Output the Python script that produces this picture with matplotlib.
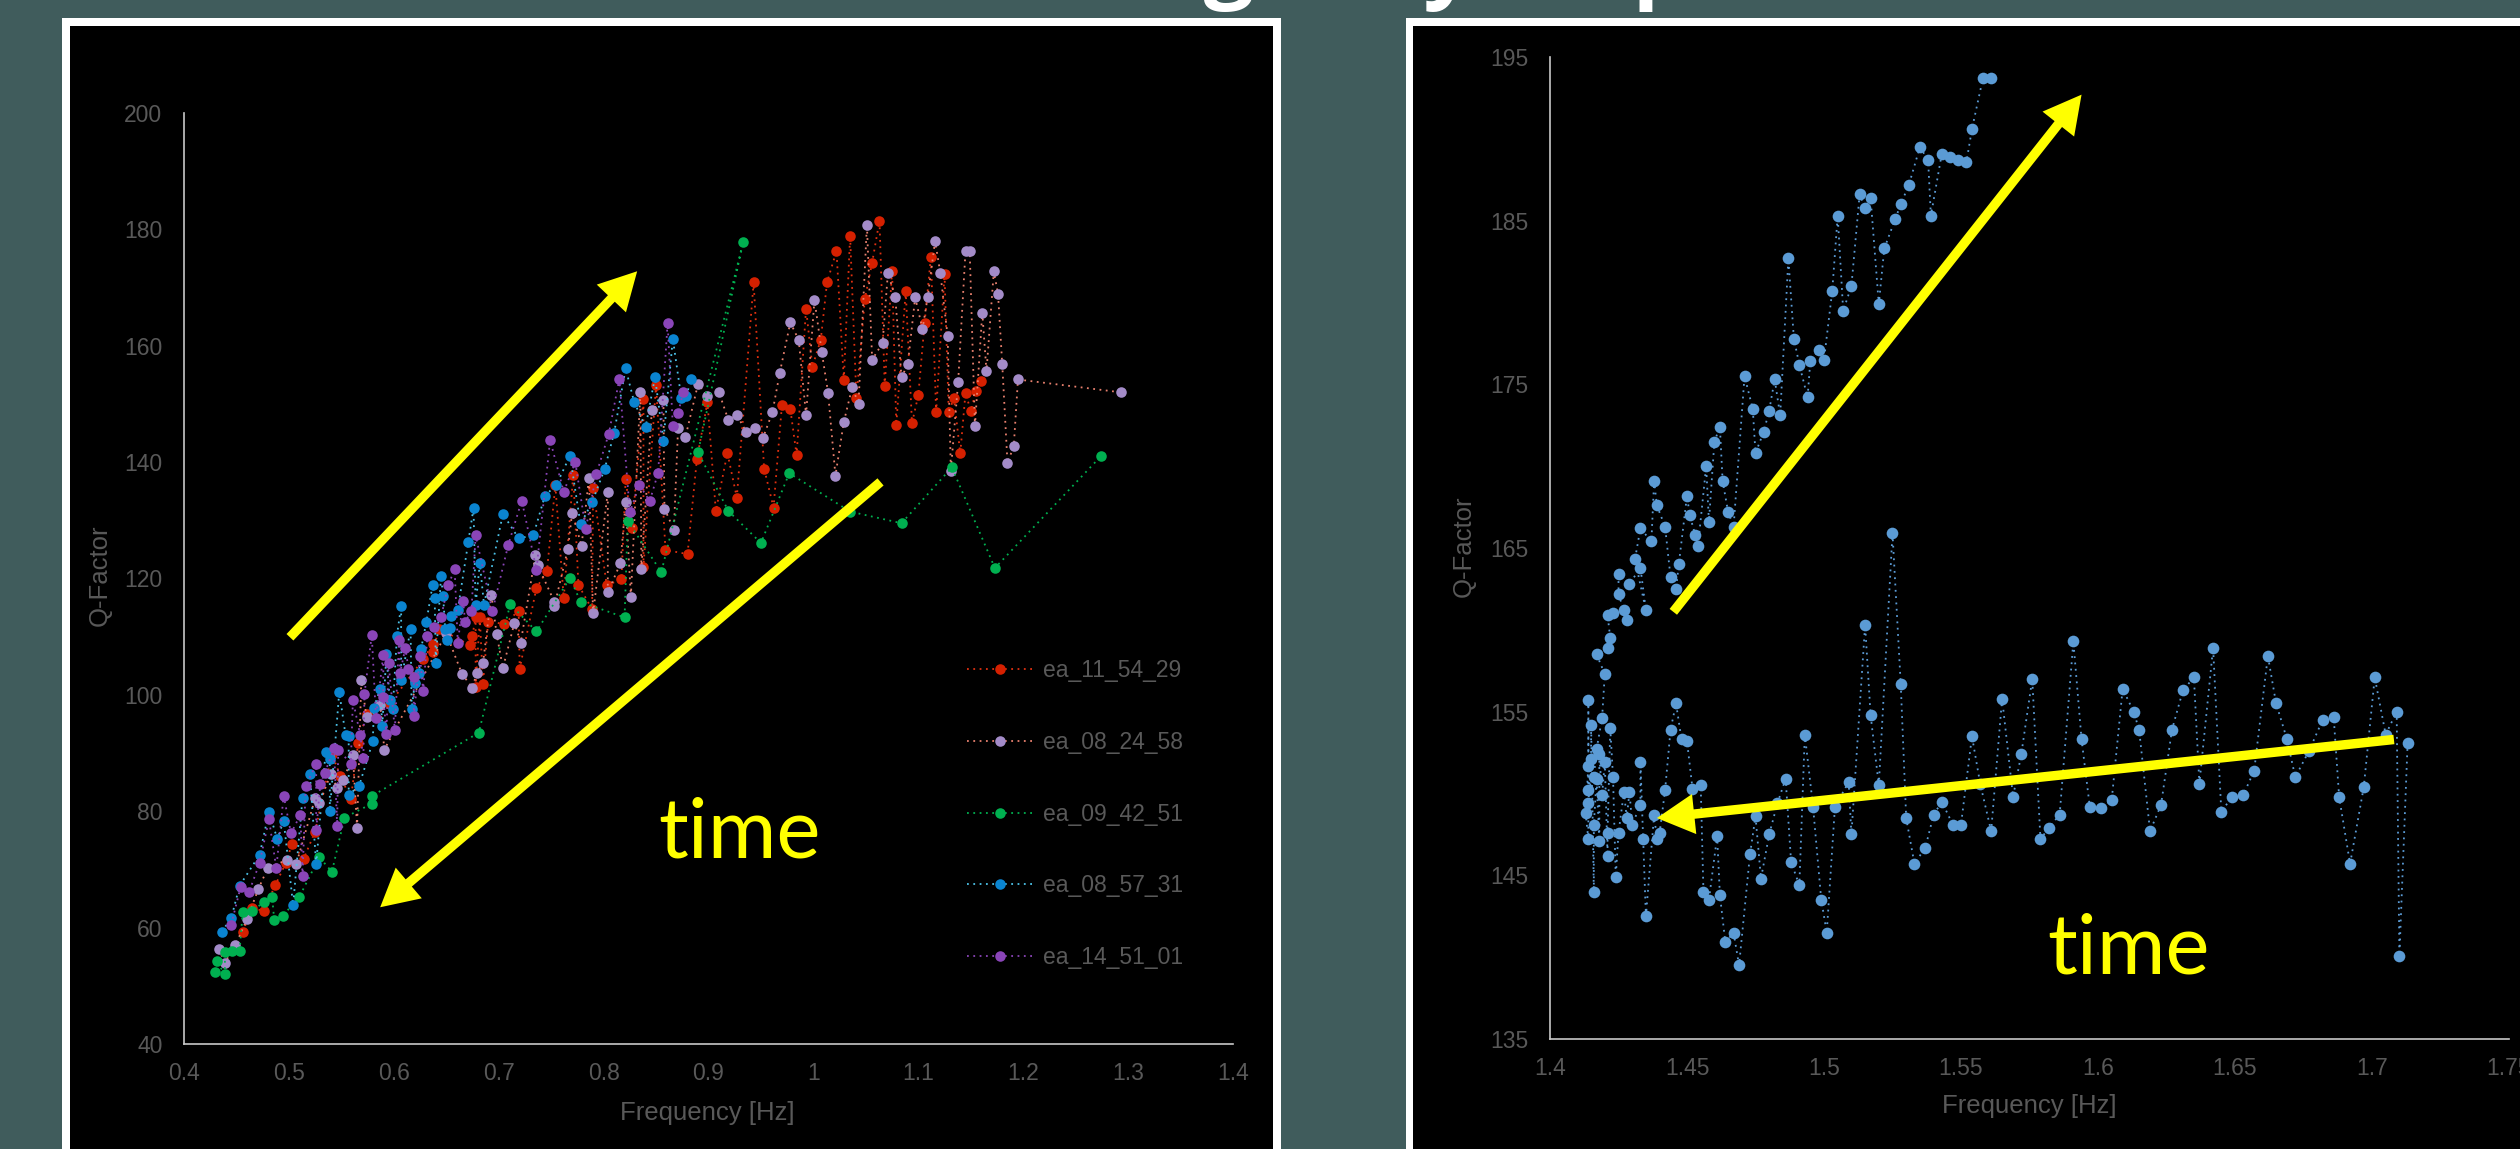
import numpy as np
import matplotlib.pyplot as plt
from matplotlib.patches import Rectangle, FancyArrowPatch
from matplotlib.ticker import MultipleLocator, FuncFormatter

plt.rcParams['font.family'] = ['Liberation Sans', 'DejaVu Sans']

# ---- data ----
labels = ['ea_11_54_29', 'ea_08_24_58', 'ea_09_42_51', 'ea_08_57_31', 'ea_14_51_01']
marker_colors = ['#d52000', '#a38bc8', '#00b050', '#0a84d0', '#8a45b8']
line_colors = ['#e03010', '#e8806e', '#00b050', '#4cc2e8', '#8a45b8']

pts_11_54_29 = [
    (0.456, 59.3), (0.465, 63.3), (0.476, 62.9), (0.487, 67.3), (0.497, 71.1), (0.503, 74.4),
    (0.514, 71.8), (0.525, 76.5), (0.541, 89.8), (0.549, 86.1), (0.559, 82.1), (0.566, 91.7),
    (0.574, 96.7), (0.596, 98.5), (0.628, 106.1), (0.637, 108.7), (0.637, 107.3), (0.643, 111.4),
    (0.673, 108.5), (0.675, 110.2), (0.678, 113.4), (0.678, 101.4), (0.682, 113.3), (0.685, 101.9),
    (0.690, 112.6), (0.705, 112.2), (0.719, 114.4), (0.720, 104.5), (0.736, 118.4), (0.746, 121.3),
    (0.754, 136.0), (0.762, 116.6), (0.771, 137.8), (0.776, 118.9), (0.789, 114.7), (0.790, 135.5),
    (0.803, 118.8), (0.817, 119.9), (0.821, 137.1), (0.827, 128.7), (0.838, 150.9), (0.838, 122.0),
    (0.850, 153.3), (0.859, 124.9), (0.880, 124.2), (0.889, 140.6), (0.899, 150.3), (0.907, 131.6),
    (0.918, 141.6), (0.927, 133.9), (0.943, 170.9), (0.953, 138.9), (0.962, 132.2), (0.970, 149.8),
    (0.978, 149.1), (0.984, 141.2), (0.993, 166.4), (0.999, 156.4), (1.007, 161.0), (1.013, 170.9),
    (1.022, 176.3), (1.029, 154.1), (1.035, 178.9), (1.041, 151.0), (1.049, 168.0), (1.056, 174.3),
    (1.063, 181.5), (1.068, 153.1), (1.075, 172.9), (1.079, 146.4), (1.088, 169.4), (1.094, 146.7),
    (1.100, 151.5), (1.106, 163.9), (1.112, 175.3), (1.117, 148.6), (1.125, 172.3), (1.129, 148.6),
    (1.134, 151.0), (1.140, 141.5), (1.145, 151.9), (1.150, 148.8), (1.155, 152.2), (1.160, 153.9),
]

pts_08_24_58 = [
    (0.433, 56.3), (0.439, 54.0), (0.449, 57.0), (0.460, 61.4), (0.471, 66.7), (0.480, 70.3),
    (0.498, 71.6), (0.507, 70.9), (0.525, 82.2), (0.529, 81.4), (0.540, 86.4), (0.546, 84.0),
    (0.552, 85.4), (0.561, 89.6), (0.565, 77.2), (0.569, 102.5), (0.574, 96.2), (0.587, 98.3),
    (0.591, 90.6), (0.650, 110.6), (0.665, 103.6), (0.675, 101.2), (0.679, 103.8), (0.685, 105.4),
    (0.693, 117.2), (0.698, 110.5), (0.704, 104.6), (0.715, 112.4), (0.721, 109.0), (0.735, 124.0),
    (0.737, 122.4), (0.753, 116.0), (0.753, 115.2), (0.766, 125.1), (0.770, 131.3), (0.779, 125.6),
    (0.786, 137.3), (0.790, 114.0), (0.804, 134.9), (0.804, 117.6), (0.816, 122.6), (0.821, 133.1),
    (0.826, 116.9), (0.835, 152.0), (0.836, 121.7), (0.846, 148.9), (0.857, 150.7), (0.858, 132.0),
    (0.867, 128.4), (0.871, 145.9), (0.878, 144.3), (0.890, 153.4), (0.899, 151.4), (0.910, 152.0),
    (0.919, 147.2), (0.927, 148.1), (0.936, 145.2), (0.944, 145.8), (0.952, 144.2), (0.961, 148.6),
    (0.968, 155.4), (0.978, 164.0), (0.986, 161.0), (0.993, 148.1), (1.001, 167.9), (1.008, 158.9),
    (1.014, 151.9), (1.021, 137.7), (1.029, 146.9), (1.037, 152.9), (1.043, 150.0), (1.051, 180.8),
    (1.056, 157.6), (1.066, 160.5), (1.071, 172.5), (1.078, 168.4), (1.084, 154.6), (1.090, 156.8),
    (1.097, 168.3), (1.104, 162.9), (1.109, 168.4), (1.116, 178.0), (1.121, 172.5), (1.128, 161.6),
    (1.131, 138.5), (1.138, 153.8), (1.145, 176.3), (1.149, 176.3), (1.154, 146.2), (1.161, 165.7),
    (1.165, 155.6), (1.172, 172.8), (1.176, 168.9), (1.180, 156.9), (1.185, 139.9), (1.191, 142.7),
    (1.195, 154.2), (1.293, 152.0),
]

pts_09_42_51 = [
    (0.430, 52.3), (0.431, 54.2), (0.439, 52.0), (0.439, 55.8), (0.446, 55.9), (0.453, 56.0),
    (0.456, 62.7), (0.465, 62.8), (0.476, 64.4), (0.484, 65.3), (0.486, 61.3), (0.494, 62.0),
    (0.510, 65.3), (0.529, 72.1), (0.541, 69.6), (0.553, 78.9), (0.579, 81.3), (0.579, 82.6),
    (0.681, 93.5), (0.711, 115.6), (0.736, 110.9), (0.768, 120.1), (0.778, 116.0), (0.820, 113.3),
    (0.823, 129.9), (0.855, 121.1), (0.933, 177.8), (0.890, 141.7), (0.919, 131.6), (0.950, 126.1),
    (0.977, 138.1), (1.035, 131.5), (1.084, 129.5), (1.132, 139.1), (1.173, 121.8), (1.274, 141.0),
]

pts_08_57_31 = [
    (0.436, 59.3), (0.445, 61.6), (0.453, 67.2), (0.472, 72.5), (0.481, 79.9), (0.489, 75.2),
    (0.495, 78.4), (0.504, 63.9), (0.513, 82.3), (0.520, 86.4), (0.526, 70.9), (0.535, 90.2),
    (0.539, 88.9), (0.539, 80.0), (0.548, 100.5), (0.554, 93.1), (0.557, 93.0), (0.557, 82.8),
    (0.567, 84.4), (0.580, 92.0), (0.581, 97.8), (0.587, 101.0), (0.589, 94.7), (0.593, 107.1),
    (0.596, 99.1), (0.599, 97.5), (0.603, 110.2), (0.607, 115.3), (0.607, 102.5), (0.616, 111.3),
    (0.617, 97.6), (0.620, 102.0), (0.624, 103.7), (0.626, 107.9), (0.631, 112.5), (0.637, 118.9),
    (0.639, 116.7), (0.640, 105.5), (0.645, 120.4), (0.647, 117.0), (0.649, 111.3), (0.651, 109.4),
    (0.654, 111.5), (0.655, 113.6), (0.661, 114.6), (0.671, 126.3), (0.676, 132.1), (0.678, 115.4),
    (0.682, 122.6), (0.686, 115.5), (0.704, 131.1), (0.719, 126.9), (0.733, 127.4), (0.744, 134.2),
    (0.755, 136.1), (0.768, 141.1), (0.778, 129.3), (0.789, 133.1), (0.801, 138.8), (0.810, 145.0),
    (0.821, 156.1), (0.829, 150.4), (0.840, 146.0), (0.849, 154.6), (0.857, 143.7), (0.866, 161.2),
    (0.874, 151.1), (0.879, 151.3), (0.883, 154.3),
]

pts_14_51_01 = [
    (0.445, 60.5), (0.454, 67.0), (0.462, 66.1), (0.472, 71.1), (0.481, 78.6), (0.488, 70.2),
    (0.495, 82.7), (0.502, 76.2), (0.511, 79.4), (0.513, 68.8), (0.516, 84.3), (0.526, 88.1),
    (0.526, 76.8), (0.530, 84.7), (0.534, 86.5), (0.543, 90.8), (0.546, 77.5), (0.547, 90.6),
    (0.559, 88.2), (0.561, 99.1), (0.568, 93.1), (0.571, 89.1), (0.572, 100.1), (0.579, 110.3),
    (0.583, 96.1), (0.590, 106.9), (0.590, 99.7), (0.593, 93.3), (0.595, 105.5), (0.601, 94.0),
    (0.605, 109.4), (0.606, 103.8), (0.611, 108.0), (0.614, 104.5), (0.619, 103.1), (0.619, 96.4),
    (0.625, 106.6), (0.628, 100.6), (0.632, 110.1), (0.638, 111.7), (0.645, 113.4), (0.652, 118.9),
    (0.658, 121.6), (0.661, 108.9), (0.666, 116.2), (0.668, 112.6), (0.674, 114.4), (0.678, 127.4),
    (0.694, 114.4), (0.709, 125.7), (0.722, 133.4), (0.736, 121.5), (0.749, 143.8), (0.762, 134.9),
    (0.773, 140.0), (0.783, 128.5), (0.793, 137.9), (0.805, 144.9), (0.815, 154.3), (0.825, 131.4),
    (0.834, 136.1), (0.844, 133.3), (0.852, 138.2), (0.861, 163.9), (0.866, 146.2), (0.871, 148.4),
    (0.876, 152.1),
]

# right panel: single run, first the lower branch (right to left), then the upper branch
pts_right_down = [
    (1.713, 153.1), (1.710, 140.1), (1.709, 155.0), (1.705, 153.6), (1.701, 157.1), (1.697, 150.4),
    (1.692, 145.7), (1.688, 149.8), (1.686, 154.7), (1.682, 154.5), (1.677, 152.6), (1.672, 151.0),
    (1.669, 153.3), (1.665, 155.5), (1.662, 158.4), (1.657, 151.4), (1.653, 149.9), (1.649, 149.8),
    (1.645, 148.9), (1.642, 158.9), (1.637, 150.6), (1.635, 157.1), (1.631, 156.3), (1.627, 153.9),
    (1.623, 149.3), (1.619, 147.7), (1.615, 153.9), (1.613, 155.0), (1.609, 156.4), (1.605, 149.6),
    (1.601, 149.1), (1.597, 149.2), (1.594, 153.3), (1.591, 159.3), (1.586, 148.7), (1.582, 147.9),
    (1.579, 147.2), (1.576, 157.0), (1.572, 152.4), (1.569, 149.8), (1.565, 155.8), (1.561, 147.7),
    (1.557, 150.6), (1.554, 153.5), (1.550, 148.1), (1.547, 148.1), (1.543, 149.5), (1.540, 148.7),
    (1.537, 146.7), (1.533, 145.7), (1.530, 148.5), (1.528, 156.7), (1.525, 165.9), (1.520, 150.5),
    (1.517, 154.8), (1.515, 160.3), (1.510, 147.5), (1.509, 150.7), (1.504, 149.2), (1.501, 141.5),
    (1.499, 143.5), (1.496, 149.2), (1.493, 153.6), (1.491, 144.4), (1.488, 145.8), (1.486, 150.9),
    (1.483, 149.4), (1.480, 147.5), (1.477, 144.8), (1.475, 148.6), (1.473, 146.3), (1.469, 139.5),
    (1.467, 141.5), (1.464, 140.9), (1.462, 143.8), (1.461, 147.4), (1.458, 143.5), (1.456, 144.0),
    (1.455, 150.5), (1.452, 150.3), (1.450, 153.2), (1.448, 153.3), (1.446, 155.5), (1.444, 153.9),
    (1.442, 150.2), (1.440, 147.6), (1.439, 147.2), (1.438, 148.7), (1.435, 142.5), (1.434, 147.2),
    (1.433, 151.9), (1.433, 149.3), (1.430, 148.1), (1.429, 150.1), (1.428, 148.5), (1.427, 150.1),
    (1.425, 147.6), (1.424, 144.9), (1.423, 151.0), (1.422, 154.0), (1.421, 147.6), (1.421, 146.2),
    (1.420, 151.9), (1.419, 149.9), (1.418, 152.4), (1.418, 147.1), (1.417, 150.9), (1.416, 148.1),
    (1.416, 144.0), (1.415, 154.2), (1.415, 152.1), (1.414, 149.4), (1.414, 147.2), (1.413, 148.8),
    (1.414, 151.7), (1.414, 155.7), (1.414, 150.2), (1.416, 151.0), (1.417, 152.7), (1.419, 154.6),
    (1.420, 157.3), (1.417, 158.5),
]
pts_right_up = [
    (1.421, 158.9), (1.422, 159.5), (1.421, 160.9), (1.423, 161.0), (1.427, 161.2), (1.428, 160.6),
    (1.425, 162.2), (1.425, 163.4), (1.429, 162.8), (1.433, 163.8), (1.435, 161.2), (1.431, 164.3),
    (1.433, 166.2), (1.437, 165.4), (1.438, 169.1), (1.439, 167.6), (1.442, 166.3), (1.444, 163.2),
    (1.446, 162.5), (1.447, 164.0), (1.450, 168.2), (1.451, 167.0), (1.453, 165.8), (1.454, 165.1),
    (1.457, 170.0), (1.458, 166.6), (1.460, 171.5), (1.462, 172.4), (1.463, 169.1), (1.465, 167.2),
    (1.467, 166.3), (1.471, 175.5), (1.474, 173.5), (1.475, 170.8), (1.478, 172.1), (1.480, 173.4),
    (1.482, 175.3), (1.484, 173.1), (1.487, 182.7), (1.489, 177.8), (1.491, 176.2), (1.494, 174.2),
    (1.495, 176.4), (1.498, 177.1), (1.500, 176.5), (1.503, 180.7), (1.505, 185.3), (1.507, 179.5),
    (1.510, 181.0), (1.513, 186.6), (1.515, 185.8), (1.517, 186.4), (1.520, 179.9), (1.522, 183.3),
    (1.526, 185.1), (1.528, 186.0), (1.531, 187.2), (1.535, 189.5), (1.538, 188.7), (1.539, 185.3),
    (1.543, 189.1), (1.546, 188.9), (1.549, 188.7), (1.552, 188.6), (1.554, 190.6), (1.558, 193.7),
    (1.561, 193.7),
]

right_yticks = [135, 145, 155, 165, 175, 185, 195]

# annotation arrows (tail, tip) in data units
arrows_left = [((0.501, 109.9), (0.832, 172.8)), ((1.064, 136.6), (0.587, 63.5))]
arrows_right = [((1.445, 161.1), (1.594, 192.7)), ((1.708, 153.3), (1.439, 148.5))]

# ---- figure ----
W, H = 2520, 1149
fig = plt.figure(figsize=(W / 100, H / 100), dpi=100)
fig.patch.set_facecolor('#405c5c')


def box(x0, y0, x1, y1, color):
    # pixel box measured from the top-left corner
    r = Rectangle((x0 / W, 1 - y1 / H), (x1 - x0) / W, (y1 - y0) / H,
                  transform=fig.transFigure, facecolor=color, edgecolor='none', zorder=-5)
    fig.add_artist(r)


box(62, 18, 1281, 1200, 'white')
box(70, 26, 1273, 1200, 'black')
box(1406, 18, 2600, 1200, 'white')
box(1413, 26, 2600, 1200, 'black')

# title, mostly cut off by the top edge (only descenders show)
fig.text(975 / W, 1 + 10 / H, 'Slow glassy response', color='white', fontsize=64,
         fontweight='bold', family=['Open Sans', 'DejaVu Sans'], ha='left', va='baseline')

fmt = FuncFormatter(lambda v, p: '%g' % round(v, 4))
TXT = '#595959'


def style(ax):
    ax.patch.set_visible(False)
    for s in ['top', 'right']:
        ax.spines[s].set_visible(False)
    for s in ['left', 'bottom']:
        ax.spines[s].set_color('#c8c8c8')
        ax.spines[s].set_linewidth(1.2)
    ax.tick_params(axis='both', length=0, labelsize=16.5, labelcolor=TXT)
    ax.tick_params(axis='x', pad=13)
    ax.tick_params(axis='y', pad=15.5)
    ax.xaxis.set_major_formatter(fmt)
    ax.yaxis.set_major_formatter(fmt)


def arrow(ax, tail, tip):
    a = FancyArrowPatch(posA=tail, posB=tip, shrinkA=0, shrinkB=0,
                        arrowstyle='simple,head_length=2.7,head_width=2.9,tail_width=0.68',
                        mutation_scale=10, color='#ffff00', lw=0, zorder=5)
    ax.add_patch(a)


dots = (0, (1, 2.5))

# left panel
axL = fig.add_axes([184 / W, 1 - 1044 / H, 1049 / W, 931 / H])
style(axL)
series = [pts_11_54_29, pts_08_24_58, pts_09_42_51, pts_08_57_31, pts_14_51_01]
for pts, lab, mc, lc in zip(series, labels, marker_colors, line_colors):
    f, q = zip(*pts)
    axL.plot(f, q, linestyle=dots, lw=1.3, color=lc, marker='o', ms=7.6,
             mfc=mc, mec=mc, mew=0, label=lab)
axL.set_xlim(0.4, 1.4)
axL.set_ylim(40, 200)
axL.xaxis.set_major_locator(MultipleLocator(0.1))
axL.yaxis.set_major_locator(MultipleLocator(20))
axL.set_xlabel('Frequency [Hz]', fontsize=18.5, color=TXT)
axL.set_ylabel('Q-Factor', fontsize=18.5, color=TXT)
axL.xaxis.set_label_coords(0.4986, -0.061)
axL.yaxis.set_label_coords(-0.0686, 0.504)
leg = axL.legend(loc='upper left', bbox_to_anchor=(0.746, 0.4135), frameon=False,
                 fontsize=16.5, labelcolor=TXT, handlelength=2.9, handletextpad=0.42,
                 labelspacing=2.13, borderpad=0, borderaxespad=0, numpoints=1)
for tail, tip in arrows_left:
    arrow(axL, tail, tip)
axL.text(0.930, 72.1, 'time', color='#ffff00', fontsize=60, family=['Lato', 'DejaVu Sans'],
         ha='center', va='baseline')

# right panel
axR = fig.add_axes([1550 / W, 1 - 1039 / H, 959 / W, 982 / H])
style(axR)
f, q = zip(*(pts_right_down + pts_right_up))
axR.plot(f, q, linestyle=dots, lw=1.3, color='#5b9bd5', marker='o', ms=8.4,
         mfc='#5b9bd5', mec='#5b9bd5', mew=0)
axR.set_xlim(1.4, 1.75)
axR.set_ylim(135, 195)
axR.xaxis.set_major_locator(MultipleLocator(0.05))
axR.set_yticks(right_yticks)
axR.set_xlabel('Frequency [Hz]', fontsize=18.5, color=TXT)
axR.set_ylabel('Q-Factor', fontsize=18.5, color=TXT)
axR.xaxis.set_label_coords(0.4995, -0.056)
axR.yaxis.set_label_coords(-0.077, 0.502)
for tail, tip in arrows_right:
    arrow(axR, tail, tip)
axR.text(1.611, 139.0, 'time', color='#ffff00', fontsize=60, family=['Lato', 'DejaVu Sans'],
         ha='center', va='baseline')

fig.savefig('out.png', dpi=100, facecolor=fig.get_facecolor())
